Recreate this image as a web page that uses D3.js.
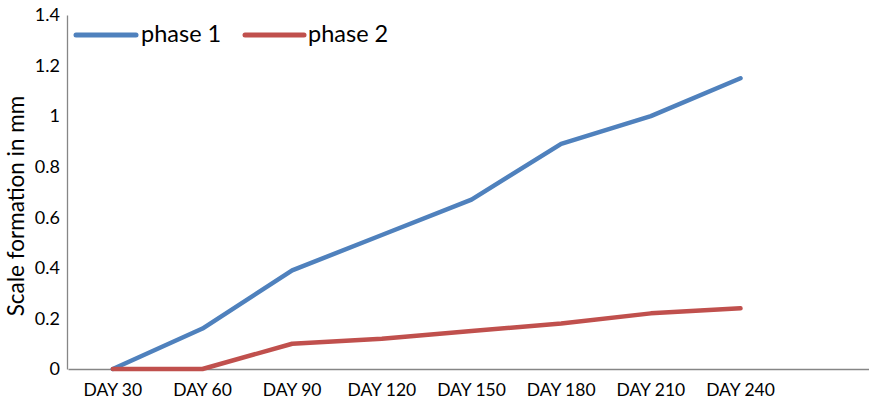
<!DOCTYPE html>
<html><head><meta charset="utf-8">
<script src="https://cdn.jsdelivr.net/npm/d3@7"></script>
<style>body{margin:0;background:#fff}svg{display:block}text{font-family:Lato,"Open Sans",sans-serif}</style>
</head><body><svg id="c" width="869" height="403"></svg>
<script>
const categories = ["DAY 30","DAY 60","DAY 90","DAY 120","DAY 150","DAY 180","DAY 210","DAY 240"];
const phase1 = [0, 0.16, 0.39, 0.53, 0.67, 0.89, 1.0, 1.15];
const phase2 = [0, 0, 0.10, 0.12, 0.15, 0.18, 0.22, 0.24];
const yTicks = [0, 0.2, 0.4, 0.6, 0.8, 1, 1.2, 1.4];
const seriesNames = ["phase 1", "phase 2"];
const colors = ["#4F81BD", "#C0504D"];

const svg = d3.select("#c");
const x = d3.scaleBand().domain([...categories, ""]).range([68, 875]);
const y = d3.scaleLinear().domain([0, 1.4]).range([369, 15]);

const yAxis = svg.append("g").attr("transform","translate(67,0)")
  .call(d3.axisLeft(y).tickValues(yTicks).tickSize(0).tickPadding(7).tickFormat(d3.format("~g")));
yAxis.select(".domain").attr("stroke","#868686").attr("stroke-width",1.3);
yAxis.selectAll("text").style("font-size","18px").attr("fill","#000").style("font-family","Lato, sans-serif");

const xAxis = svg.append("g").attr("transform","translate(0,369)")
  .call(d3.axisBottom(x).tickSize(0).tickPadding(15).tickValues(categories));
xAxis.select(".domain").attr("stroke","#868686").attr("stroke-width",1.3);
xAxis.selectAll("text").style("font-size","17.5px").attr("fill","#000").style("font-family","Lato, sans-serif");

svg.append("text").attr("transform","translate(24,206) rotate(-90)")
  .attr("text-anchor","middle").style("font-size","22.5px").style("font-family","Lato, sans-serif")
  .text("Scale formation in mm");

const line = d3.line().x((d,i)=>x(categories[i]) + x.bandwidth()/2).y(d=>y(d));
[phase1, phase2].forEach((s,k)=>{
  svg.append("path").datum(s).attr("d", line).attr("fill","none")
    .attr("stroke", colors[k]).attr("stroke-width",4.5)
    .attr("stroke-linejoin","round").attr("stroke-linecap","round");
});

const lg = [{x1:76,x2:136,tx:141},{x1:245,x2:304,tx:308}];
seriesNames.forEach((n,k)=>{
  svg.append("line").attr("x1",lg[k].x1).attr("x2",lg[k].x2).attr("y1",35).attr("y2",35)
    .attr("stroke",colors[k]).attr("stroke-width",5).attr("stroke-linecap","round");
  svg.append("text").attr("x",lg[k].tx).attr("y",42).style("font-size","23.5px")
    .style("font-family","Lato, sans-serif").text(n);
});
</script></body></html>
